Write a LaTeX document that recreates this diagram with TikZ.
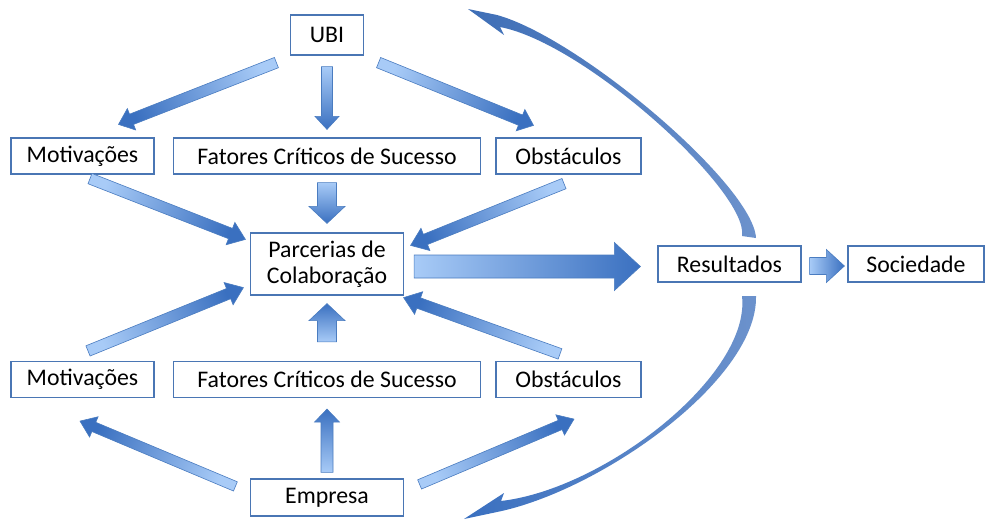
\documentclass[tikz,border=0pt]{standalone}
\usepackage{fontspec}
\setmainfont{Carlito}
\usetikzlibrary{calc}

\definecolor{boxline}{HTML}{4A76B4}
\definecolor{lite}{HTML}{A8CBF7}
\definecolor{deep}{HTML}{3A70C0}
\definecolor{edge}{HTML}{4A7CC0}
\definecolor{arcdark}{HTML}{3E6EB6}
\definecolor{arclite}{HTML}{6C92CC}

\tikzset{
  box/.style={draw=boxline, line width=1.2pt, fill=white, inner sep=0pt,
    minimum height=36pt, font=\fontsize{23.8}{26}\selectfont},
}

% block arrow: tail, tip, half shaft, half head, head length
\newcommand{\blockarrow}[5]{%
  \path (#1) coordinate (bt) (#2) coordinate (bh);
  \path ($(bh)!#5!(bt)$) coordinate (bn);
  \pgfmathanglebetweenpoints{\pgfpointanchor{bt}{center}}{\pgfpointanchor{bh}{center}}%
  \pgfmathsetmacro\barshade{\pgfmathresult-90}%
  \shadedraw[top color=deep, bottom color=lite, shading angle=\barshade,
      draw=edge, line width=0.6pt, line join=miter]
    ($(bt)!#3!90:(bh)$) -- ($(bn)!#3!-90:(bt)$) -- ($(bn)!#4!-90:(bt)$) -- (bh)
    -- ($(bn)!#4!90:(bt)$) -- ($(bn)!#3!90:(bt)$) -- ($(bt)!#3!-90:(bh)$) -- cycle;
}

\begin{document}
\begin{tikzpicture}[x=1pt,y=-1pt]
  \fill[white] (0,0) rectangle (985,522);
  \useasboundingbox (0,0) rectangle (985,522);

  \node[box, minimum width=73pt, minimum height=40pt] (ubi) at (327,35) {UBI};

  \node[box, minimum width=143pt] (motA) at (82.5,156) {Motivações};
  \node[box, minimum width=307pt] (fcsA) at (327,156) {Fatores Críticos de Sucesso};
  \node[box, minimum width=145pt] (obsA) at (568.5,156) {Obstáculos};

  \node[box, minimum width=153pt, minimum height=62pt, align=center] (parc) at (327,264)
    {Parcerias de\\Colaboração};
  \node[box, minimum width=143pt] (res) at (729.5,264) {Resultados};
  \node[box, minimum width=136pt] (soc) at (916,264) {Sociedade};

  \node[box, minimum width=143pt] (motB) at (82.5,379.5) {Motivações};
  \node[box, minimum width=307pt] (fcsB) at (327,379.5) {Fatores Críticos de Sucesso};
  \node[box, minimum width=145pt] (obsB) at (568.5,379.5) {Obstáculos};

  \node[box, minimum width=153pt, minimum height=37pt] (emp) at (327,497.5) {Empresa};

  \blockarrow{$(ubi.south west)+(-13.5,7)$}{$(motA.north)+(36,-13)$}{5.5pt}{11.5pt}{14pt}
  \blockarrow{$(ubi.south)+(0,11)$}{$(fcsA.north)+(0,-8)$}{5.5pt}{12pt}{13pt}
  \blockarrow{$(ubi.south east)+(14.5,7)$}{$(obsA.north)+(-35,-12)$}{5.5pt}{11.5pt}{14pt}

  \blockarrow{$(motA.south)+(7.5,4)$}{$(parc.north west)+(-4.5,7)$}{5.5pt}{12pt}{16pt}
  \blockarrow{$(fcsA.south)+(0,8)$}{$(parc.north)+(0,-9)$}{9.5pt}{18pt}{17pt}
  \blockarrow{$(obsA.south)+(-4.5,9)$}{$(parc.north east)+(6.5,13)$}{5.5pt}{12pt}{16pt}

  \blockarrow{$(motB.north)+(5.5,-10)$}{$(parc.south west)+(-6.5,-8)$}{5.5pt}{12pt}{16pt}
  \blockarrow{$(fcsB.north)+(0,-19)$}{$(parc.south)+(0,8)$}{9.5pt}{18pt}{17pt}
  \blockarrow{$(obsB.north)+(-8.5,-7)$}{$(parc.south east)+(-0.5,2)$}{5.5pt}{12pt}{16pt}

  \blockarrow{$(emp.north west)+(-14.5,8)$}{$(motB.south)+(-2.5,23)$}{5pt}{11pt}{15pt}
  \blockarrow{$(emp.north)+(0,-6)$}{$(fcsB.south)+(0,11)$}{6pt}{12.5pt}{13pt}
  \blockarrow{$(emp.north east)+(15.5,6)$}{$(obsB.south)+(5.5,21)$}{5pt}{11pt}{15pt}

  \blockarrow{$(parc.east)+(10,2.5)$}{$(res.west)+(-17,2.5)$}{11.5pt}{24pt}{26pt}
  \blockarrow{$(res.east)+(8,2)$}{$(soc.west)+(-3,2)$}{8.5pt}{16.5pt}{18pt}

  % curved arrows back from Resultados
  \shade[left color=arcdark, right color=arclite]
    (756,238) .. controls (753,185) and (580,38) .. (497,15) -- (468,9) -- (504,35)
    -- (500,27) .. controls (585,43) and (749,192) .. (742,236) -- cycle;
  \shade[left color=deep, right color=arclite]
    (756,296) .. controls (758,380) and (600,491) .. (497,512) -- (464,519) -- (504,493)
    -- (501,501) .. controls (605,489) and (751,375) .. (742,296) -- cycle;
\end{tikzpicture}
\end{document}
